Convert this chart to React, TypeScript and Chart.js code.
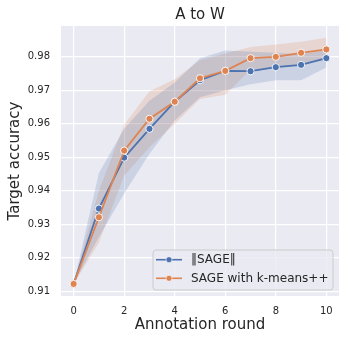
import React, { useEffect, useRef } from "react";
import { Chart, registerables } from "chart.js";

Chart.register(...registerables);

const rounds = [0, 1, 2, 3, 4, 5, 6, 7, 8, 9, 10];
const sageMean = [0.9122, 0.9347, 0.9499, 0.9585, 0.9666, 0.973, 0.9758, 0.9757, 0.9769, 0.9776, 0.9796];
const sageLow = [0.9122, 0.9262, 0.9392, 0.9511, 0.961, 0.9679, 0.97, 0.9718, 0.973, 0.973, 0.9768];
const sageHigh = [0.9122, 0.9453, 0.9585, 0.9669, 0.9723, 0.9796, 0.9819, 0.9815, 0.9812, 0.9808, 0.982];
const kmMean = [0.9122, 0.9321, 0.952, 0.9615, 0.9666, 0.9736, 0.9758, 0.9796, 0.98, 0.9812, 0.9822];
const kmLow = [0.9122, 0.9245, 0.9446, 0.953, 0.96, 0.9674, 0.9687, 0.9762, 0.9768, 0.9778, 0.979];
const kmHigh = [0.9122, 0.94, 0.9597, 0.9697, 0.9733, 0.979, 0.981, 0.9829, 0.9837, 0.9845, 0.9857];

const xTickValues = [0, 2, 4, 6, 8, 10];
const yTickValues = [0.91, 0.92, 0.93, 0.94, 0.95, 0.96, 0.97, 0.98];
const seriesLabels = ["\u2016SAGE\u2016", "SAGE with k-means++"];
const chartTitle = "A to W";
const xAxisTitle = "Annotation round";
const yAxisTitle = "Target accuracy";

const BLUE = "#4C72B0";
const ORANGE = "#DD8452";
const TEXT = "#262626";
const FONT = "DejaVu Sans";

const pts = (ys: number[]) => rounds.map((x, i) => ({ x, y: ys[i] }));

export default function App() {
  const ref = useRef<HTMLCanvasElement | null>(null);

  useEffect(() => {
    if (!ref.current) return;

    const bgPlugin = {
      id: "bgPlugin",
      beforeDraw(chart: any) {
        const { ctx, chartArea: a } = chart;
        ctx.save();
        ctx.fillStyle = "#EAEAF2";
        ctx.fillRect(a.left, a.top, a.right - a.left, a.bottom - a.top);
        ctx.restore();
      },
    };

    const titlePlugin = {
      id: "titlePlugin",
      afterDraw(chart: any) {
        const { ctx, chartArea: a } = chart;
        ctx.save();
        ctx.fillStyle = TEXT;
        ctx.font = `15px "${FONT}"`;
        ctx.textAlign = "center";
        ctx.textBaseline = "alphabetic";
        ctx.fillText(chartTitle, (a.left + a.right) / 2, 19);
        ctx.restore();
      },
    };

    const legendPlugin = {
      id: "legendPlugin",
      afterDraw(chart: any) {
        const { ctx } = chart;
        const x0 = 153, y0 = 250, w = 180, h = 40;
        ctx.save();
        ctx.beginPath();
        const r = 3;
        ctx.moveTo(x0 + r, y0);
        ctx.lineTo(x0 + w - r, y0);
        ctx.quadraticCurveTo(x0 + w, y0, x0 + w, y0 + r);
        ctx.lineTo(x0 + w, y0 + h - r);
        ctx.quadraticCurveTo(x0 + w, y0 + h, x0 + w - r, y0 + h);
        ctx.lineTo(x0 + r, y0 + h);
        ctx.quadraticCurveTo(x0, y0 + h, x0, y0 + h - r);
        ctx.lineTo(x0, y0 + r);
        ctx.quadraticCurveTo(x0, y0, x0 + r, y0);
        ctx.closePath();
        ctx.fillStyle = "rgba(234,234,242,0.8)";
        ctx.fill();
        ctx.strokeStyle = "#CCCCCC";
        ctx.lineWidth = 1;
        ctx.stroke();
        const colors = [BLUE, ORANGE];
        const rows = [259.7, 278.3];
        seriesLabels.forEach((label, i) => {
          const y = rows[i];
          ctx.strokeStyle = colors[i];
          ctx.lineWidth = 1.6;
          ctx.beginPath();
          ctx.moveTo(156, y);
          ctx.lineTo(182, y);
          ctx.stroke();
          ctx.beginPath();
          ctx.arc(169, y, 3, 0, Math.PI * 2);
          ctx.fillStyle = colors[i];
          ctx.fill();
          ctx.strokeStyle = "#ffffff";
          ctx.lineWidth = 0.6;
          ctx.stroke();
          ctx.fillStyle = TEXT;
          ctx.font = `12px "${FONT}"`;
          ctx.textAlign = "left";
          ctx.textBaseline = "middle";
          ctx.fillText(label, 191, y + 0.5);
        });
        ctx.restore();
      },
    };

    const band = (data: number[], color: string, fill: any) => ({
      data: pts(data),
      borderWidth: 0,
      borderColor: "rgba(0,0,0,0)",
      pointRadius: 0,
      backgroundColor: color,
      fill,
      order: 3,
      tension: 0,
    });

    const line = (data: number[], color: string, label: string, order: number) => ({
      label,
      data: pts(data),
      borderColor: color,
      backgroundColor: color,
      borderWidth: 1.8,
      pointRadius: 3.6,
      pointBorderWidth: 0.9,
      pointBorderColor: "#ffffff",
      pointBackgroundColor: color,
      fill: false,
      order,
      tension: 0,
    });

    const chart = new Chart(ref.current, {
      type: "line",
      data: {
        datasets: [
          band(sageLow, "rgba(76,114,176,0.2)", false),
          band(sageHigh, "rgba(76,114,176,0.2)", "-1"),
          band(kmLow, "rgba(221,132,82,0.2)", false),
          band(kmHigh, "rgba(221,132,82,0.2)", "-1"),
          line(sageMean, BLUE, seriesLabels[0], 1),
          line(kmMean, ORANGE, seriesLabels[1], 0),
        ] as any,
      },
      options: {
        responsive: false,
        animation: false,
        devicePixelRatio: 1,
        layout: { padding: { left: 0, right: 7, top: 26, bottom: 0 } },
        plugins: {
          legend: { display: false },
          title: { display: false },
          tooltip: { enabled: false },
          filler: { drawTime: "beforeDatasetsDraw" },
        } as any,
        scales: {
          x: {
            type: "linear",
            min: -0.5,
            max: 10.5,
            afterBuildTicks: (s: any) => {
              s.ticks = xTickValues.map((v) => ({ value: v }));
            },
            afterFit: (s: any) => {
              s.height = 46;
            },
            border: { display: false },
            grid: { color: "#ffffff", lineWidth: 1.2, drawTicks: false },
            ticks: {
              padding: 9,
              color: TEXT,
              font: { family: FONT, size: 10 },
              callback: (v: any) => String(v),
              maxRotation: 0,
            },
            title: {
              display: true,
              text: xAxisTitle,
              color: TEXT,
              font: { family: FONT, size: 15 },
              padding: { top: 0, bottom: 8 },
            },
          },
          y: {
            type: "linear",
            min: 0.9086,
            max: 0.9892,
            afterBuildTicks: (s: any) => {
              s.ticks = yTickValues.map((v) => ({ value: v }));
            },
            afterFit: (s: any) => {
              s.width = 61;
            },
            border: { display: false },
            grid: { color: "#ffffff", lineWidth: 1.2, drawTicks: false },
            ticks: {
              padding: 11,
              color: TEXT,
              font: { family: FONT, size: 10 },
              callback: (v: any) => Number(v).toFixed(2),
            },
            title: {
              display: true,
              text: yAxisTitle,
              color: TEXT,
              font: { family: FONT, size: 15 },
              padding: { top: 6, bottom: 0 },
            },
          },
        },
      } as any,
      plugins: [bgPlugin, titlePlugin, legendPlugin],
    });

    return () => chart.destroy();
  }, []);

  return (
    <div style={{ position: "fixed", left: 0, top: 0, width: 346, height: 342, background: "#ffffff" }}>
      <canvas ref={ref} width={346} height={342} style={{ width: 346, height: 342, display: "block" }} />
    </div>
  );
}
